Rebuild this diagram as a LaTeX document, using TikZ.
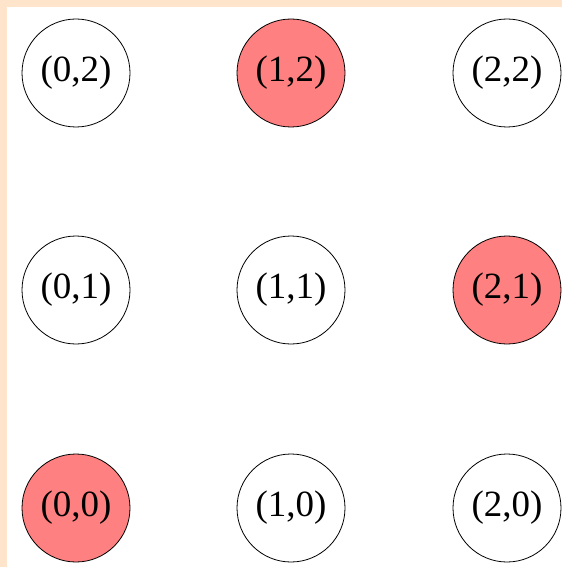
\documentclass[tikz,border=0pt]{standalone}
\usepackage{fontspec}
\setmainfont{Liberation Serif}
\usepackage{xcolor}
\definecolor{peach}{RGB}{253,228,202}
\definecolor{hit}{RGB}{255,128,128}

\begin{document}
\begin{tikzpicture}[x=1pt,y=-1pt,
  cell/.style={circle, draw=black, line width=0.8pt, minimum size=108pt, inner sep=0pt,
    font=\fontsize{37}{40}\selectfont},
  marked/.style={cell, fill=hit}]
\fill[white] (0,0) rectangle (562,567);
\fill[peach] (0,0) rectangle (562,7);
\fill[peach] (0,0) rectangle (7,567);
\useasboundingbox (0,0) rectangle (562,567);
\node[cell] (c02) at (76,73) {(0,2)};
\node[marked] (c12) at (291,73) {(1,2)};
\node[cell] (c22) at (507,73) {(2,2)};
\node[cell] (c01) at (76,290) {(0,1)};
\node[cell] (c11) at (291,290) {(1,1)};
\node[marked] (c21) at (507,290) {(2,1)};
\node[marked] (c00) at (76,508) {(0,0)};
\node[cell] (c10) at (291,508) {(1,0)};
\node[cell] (c20) at (507,508) {(2,0)};
\end{tikzpicture}
\end{document}
